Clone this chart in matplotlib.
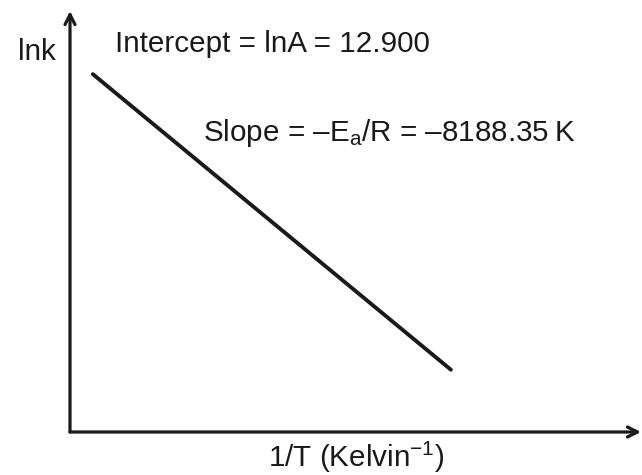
import matplotlib
matplotlib.use("Agg")
import matplotlib.pyplot as plt

plt.rcParams['font.family'] = ['Liberation Sans', 'DejaVu Sans']
plt.rcParams['mathtext.fontset'] = 'custom'
plt.rcParams['mathtext.rm'] = 'Liberation Sans'
plt.rcParams['mathtext.it'] = 'Liberation Sans'
plt.rcParams['mathtext.default'] = 'regular'

# Data (schematic Arrhenius line, axis-fraction units)
line_x = [0.040, 0.667]
line_y = [0.850, 0.148]

y_label = "lnk"
x_label = "1/T (Kelvin$^{-1}$)"
intercept_text = "Intercept = lnA = 12.900"
slope_text = "Slope = \u2013E$_{a}$/R = \u20138188.35\u2009K"

W, H = 642, 475
fig = plt.figure(figsize=(W / 100, H / 100), dpi=100)
fig.patch.set_facecolor('white')

ax = fig.add_axes([70 / W, (H - 432) / H, (641 - 70) / W, (432 - 11) / H])
ax.set_xlim(0, 1)
ax.set_ylim(0, 1)
ax.axis('off')

ink = '#1a1a1a'
arrow = dict(arrowstyle='->', lw=2.3, color=ink, shrinkA=0, shrinkB=0, mutation_scale=18)
ax.annotate('', xy=(0, 1), xytext=(0, 0), xycoords='axes fraction', arrowprops=arrow)
ax.annotate('', xy=(1, 0), xytext=(0, 0), xycoords='axes fraction', arrowprops=arrow)

ax.plot(line_x, line_y, color=ink, lw=2.8, solid_capstyle='round')

fs = 21.3
def ftext(x, y, s, **kw):
    fig.text(x / W, 1 - y / H, s, fontsize=fs, color=ink, va='baseline', **kw)

ftext(18, 60, y_label, ha='left')
ftext(115, 52, intercept_text, ha='left')
ftext(203, 141, slope_text, ha='left')
ftext(356, 467, x_label, ha='center')

fig.savefig('out.png', dpi=100, facecolor='white')
